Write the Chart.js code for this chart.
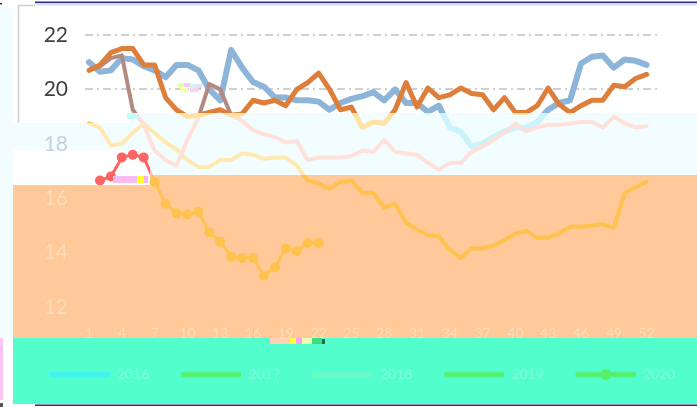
<!DOCTYPE html>
<html>
<head>
<meta charset="utf-8">
<script src="https://cdn.jsdelivr.net/npm/chart.js@4.4.1/dist/chart.umd.min.js"></script>
<style>
html, body { margin: 0; padding: 0; background: #fff; }
</style>
</head>
<body>
<canvas id="chart" width="697" height="407"></canvas>
<script>
// Weekly series, one value per week (52 weeks)
const weekLabels = ['1','2','3','4','5','6','7','8','9','10','11','12','13','14','15','16','17','18','19','20',
  '21','22','23','24','25','26','27','28','29','30','31','32','33','34','35','36','37','38','39','40',
  '41','42','43','44','45','46','47','48','49','50','51','52'];
const shownWeeks = ['1','4','7','10','13','16','19','22','25','28','31','34','37','40','43','46','49','52'];
const seriesNames = ['2016', '2017', '2018', '2019', '2020'];

const series2016 = [21.0, 20.65, 20.7, 21.15, 21.1, 20.85, 20.7, 20.45, 20.9, 20.9, 20.7, 20.0, 19.6, 21.45, 20.8, 20.27,
  20.1, 19.7, 19.7, 19.6, 19.6, 19.55, 19.25, 19.5, 19.65, 19.75, 19.9, 19.6, 20.0, 19.5, 19.5, 19.17, 19.4, 18.6, 18.45,
  17.9, 18.0, 18.25, 18.45, 18.6, 18.6, 18.8, 19.25, 19.5, 19.6, 20.95, 21.2, 21.25, 20.8, 21.1, 21.05, 20.9];
const series2017 = [20.7, 20.9, 21.35, 21.5, 21.5, 20.9, 20.9, 19.7, 19.25, 19.0, 19.05, 19.15, 19.25, 19.05, 19.1, 19.6,
  19.5, 19.6, 19.4, 20.0, 20.25, 20.6, 20.0, 19.25, 19.35, 18.6, 18.8, 18.75, 19.25, 20.25, 19.35, 20.05, 19.7, 19.8, 20.05,
  19.85, 19.8, 19.25, 19.7, 19.15, 19.15, 19.4, 20.05, 19.45, 19.15, 19.4, 19.6, 19.6, 20.15, 20.1, 20.4, 20.55];
const series2018 = [18.75, 18.6, 17.95, 18.0, 18.4, 18.75, 18.4, 18.05, 17.8, 17.4, 17.15, 17.15, 17.4, 17.4, 17.65, 17.6,
  17.45, 17.5, 17.5, 17.2, 16.65, 16.55, 16.35, 16.6, 16.65, 16.2, 16.2, 15.65, 15.8, 15.1, 14.85, 14.65, 14.6, 14.1, 13.8,
  14.15, 14.15, 14.25, 14.45, 14.7, 14.8, 14.55, 14.55, 14.7, 14.95, 14.95, 15.0, 15.05, 14.9, 16.2, 16.4, 16.6];
const series2019 = [20.7, 20.85, 21.15, 21.25, 19.25, 18.7, 17.75, 17.4, 17.2, 18.15, 18.95, 20.2, 20.0, 19.05, 18.85, 18.5,
  18.35, 18.25, 18.05, 18.1, 17.4, 17.5, 17.5, 17.5, 17.55, 17.75, 17.7, 18.15, 17.7, 17.65, 17.6, 17.3, 17.05, 17.3, 17.3,
  17.7, 17.9, 18.15, 18.4, 18.75, 18.45, 18.6, 18.7, 18.7, 18.75, 18.8, 18.8, 18.6, 19.0, 18.75, 18.6, 18.65];
const series2020 = [null, 16.65, 16.8, 17.5, 17.6, 17.5, 16.6, 15.8, 15.45, 15.4, 15.5, 14.75, 14.4, 13.85, 13.8, 13.8,
  13.15, 13.45, 14.15, 14.05, 14.35, 14.35];

// first entry is drawn on top
const lineSeries = [
  { name: seriesNames[4], values: series2020, width: 3, radius: 5,
    colors: { plain: '#ff6464', tint: '#ffc2c2', band: '#ffc24e' }, legendColor: '#55ef68', legendDot: true },
  { name: seriesNames[1], values: series2017, width: 5,
    colors: { plain: '#dd7e3b', tint: '#ffe2a4', band: '#ffc24e' }, legendColor: '#55ef68' },
  { name: seriesNames[3], values: series2019, width: 4,
    colors: { plain: '#b38a7f', tint: '#ffe1da', band: '#ffc24e' }, legendColor: '#55ef68' },
  { name: seriesNames[2], values: series2018, width: 4,
    colors: { plain: '#f7c04a', tint: '#ffe9ae', band: '#ffc24e' }, legendColor: '#6afbc4' },
  { name: seriesNames[0], values: series2016, width: 6,
    colors: { plain: '#8db4d9', tint: '#ccf3fb', band: '#ffc24e' }, legendColor: '#3ff2f6' }
];
const legendOrder = [4, 1, 3, 2, 0];

// glitch regions (canvas pixels)
const tintPoly = [[13,123],[130,123],[130,113],[697,113],[697,175],[150,175],[150,150],[13,150]];
const bandPoly = [[13,185],[150,185],[150,175],[697,175],[697,338],[13,338]];

function tracePoly(ctx, pts) {
    ctx.moveTo(pts[0][0], pts[0][1]);
    pts.slice(1).forEach(p => ctx.lineTo(p[0], p[1]));
    ctx.closePath();
}

// legend geometry
const legendFont = { family: 'Lato', size: 14 };
const legendPad = 10;
const measureCtx = document.createElement('canvas').getContext('2d');
measureCtx.font = '14px Lato';
const legendTextW = measureCtx.measureText(seriesNames[0]).width;
const symbolW = Math.round(114 - legendTextW);
const legendLeft = 100 - symbolW;
const xAxisHeight = 407 - 307 - 15.5 - (14 + legendPad + 10);

function legendSymbol(color, dot) {
    const c = document.createElement('canvas');
    c.width = symbolW;
    c.height = 14;
    const g = c.getContext('2d');
    g.strokeStyle = color;
    g.lineWidth = 5;
    g.lineCap = 'round';
    g.beginPath();
    g.moveTo(symbolW - 58, 7);
    g.lineTo(symbolW - 2, 7);
    g.stroke();
    if (dot) {
        g.fillStyle = color;
        g.beginPath();
        g.arc(symbolW - 30, 7, 5.5, 0, Math.PI * 2);
        g.fill();
    }
    return c;
}

// build datasets: each series drawn three times, clipped to its region
const datasets = [];
const firstIndex = [];
lineSeries.forEach((s, k) => {
    firstIndex[k] = datasets.length;
    ['plain', 'tint', 'band'].forEach(region => {
        datasets.push({
            label: s.name,
            region: region,
            data: s.values.map((v, i) => ({ x: i, y: v })),
            borderColor: s.colors[region],
            backgroundColor: s.colors[region],
            borderWidth: s.width,
            borderJoinStyle: 'round',
            borderCapStyle: 'round',
            pointRadius: s.radius || 0,
            pointBackgroundColor: s.colors[region],
            pointBorderWidth: 0,
            tension: 0,
            spanGaps: false,
            clip: false
        });
    });
});

const backdrop = {
    id: 'backdrop',
    beforeDraw(chart) {
        const ctx = chart.ctx;
        ctx.save();
        ctx.fillStyle = '#ffffff';
        ctx.fillRect(0, 0, 697, 407);
        ctx.fillStyle = '#f2fdff';
        ctx.fillRect(0, 8, 13, 330);
        ctx.beginPath(); tracePoly(ctx, tintPoly); ctx.fill();
        ctx.fillStyle = '#ffc999';
        ctx.beginPath(); tracePoly(ctx, bandPoly); ctx.fill();
        ctx.fillStyle = '#52ffcc';
        ctx.fillRect(13, 338, 684, 66);
        ctx.fillStyle = '#ffc6f5';
        ctx.fillRect(0, 338, 3, 62);
        ctx.fillStyle = '#555';
        ctx.fillRect(0, 403, 3, 4);
        ctx.fillStyle = '#2c2c88';
        ctx.fillRect(0, 3, 2, 1.5);
        ctx.fillRect(35, 1.5, 662, 1.5);
        ctx.fillRect(35, 404.5, 662, 1.5);
        ctx.fillStyle = '#dcdcf0';
        ctx.fillRect(35, 3, 662, 2.5);
        ctx.strokeStyle = '#cfcfd4';
        ctx.lineWidth = 1.5;
        ctx.beginPath();
        ctx.moveTo(18.5, 123);
        ctx.lineTo(18.5, 5.5);
        ctx.lineTo(35, 5.5);
        ctx.stroke();
        ctx.restore();
    },
    beforeDatasetDraw(chart, args) {
        const region = chart.data.datasets[args.index].region;
        const ctx = chart.ctx;
        ctx.save();
        ctx.beginPath();
        if (region === 'plain') {
            ctx.rect(0, 0, chart.width, chart.height);
            tracePoly(ctx, tintPoly);
            tracePoly(ctx, bandPoly);
            ctx.clip('evenodd');
        } else {
            tracePoly(ctx, region === 'tint' ? tintPoly : bandPoly);
            ctx.clip();
        }
    },
    afterDatasetDraw(chart) {
        chart.ctx.restore();
    },
    afterDraw(chart) {
        // small noise blocks
        const ctx = chart.ctx;
        const blocks = [
            [178, 83, 6, 4, '#e8ffa0'], [184, 83, 6, 4, '#f8c8f8'], [190, 84, 6, 4, '#c8f8f0'],
            [196, 84, 6, 4, '#e0e0ff'], [180, 88, 8, 4, '#f0ffb0'], [190, 88, 8, 4, '#ffd0f0'],
            [127, 113, 10, 6, '#c4fbff'],
            [113, 176, 24, 7, '#f7bdf3'], [137, 176, 7, 7, '#ffff2a'], [144, 176, 4, 7, '#f5b0ee'],
            [270, 338, 20, 6, '#ffd2b8'], [290, 338, 6, 6, '#ffff40'], [296, 338, 6, 6, '#ff9ef2'],
            [302, 338, 10, 6, '#e8ffb0'], [312, 338, 10, 6, '#40dd80'], [322, 339, 3, 5, '#2a6a4a']
        ];
        ctx.save();
        blocks.forEach(b => { ctx.fillStyle = b[4]; ctx.fillRect(b[0], b[1], b[2], b[3]); });
        ctx.restore();
    }
};

function yTickColor(v) {
    if (v >= 20) return '#3f3f3f';
    if (v >= 18) return '#c3d3db';
    return '#ffdcb9';
}

new Chart(document.getElementById('chart'), {
    type: 'line',
    data: { datasets: datasets },
    plugins: [backdrop],
    options: {
        responsive: false,
        animation: false,
        events: [],
        layout: { padding: { left: legendLeft, right: 0, top: 35, bottom: 15.5 } },
        plugins: {
            tooltip: { enabled: false },
            legend: {
                position: 'bottom',
                align: 'start',
                labels: {
                    usePointStyle: true,
                    pointStyleWidth: symbolW,
                    padding: legendPad,
                    font: legendFont,
                    color: '#80ffd8',
                    generateLabels: () => legendOrder.map(k => ({
                        text: lineSeries[k].name,
                        datasetIndex: firstIndex[k],
                        pointStyle: legendSymbol(lineSeries[k].legendColor, lineSeries[k].legendDot),
                        fillStyle: 'transparent',
                        strokeStyle: 'transparent',
                        lineWidth: 0,
                        fontColor: '#80ffd8',
                        hidden: false
                    }))
                }
            }
        },
        scales: {
            x: {
                type: 'linear',
                min: -0.37,
                max: 52.23,
                grid: { display: false, drawTicks: false },
                border: { display: false },
                afterBuildTicks: s => { s.ticks = shownWeeks.map(w => ({ value: weekLabels.indexOf(w) })); },
                afterFit: s => { s.height = xAxisHeight; },
                ticks: {
                    autoSkip: false,
                    maxRotation: 0,
                    padding: 18,
                    color: '#ffdcb9',
                    font: { family: 'Lato', size: 14 },
                    callback: v => weekLabels[v]
                }
            },
            y: {
                min: 12,
                max: 22,
                afterFit: s => { s.width = 85 - legendLeft; },
                grid: {
                    drawTicks: false,
                    lineWidth: 2,
                    color: c => (c.tick && c.tick.value >= 20) ? '#d0d0d0' : 'rgba(0,0,0,0)'
                },
                border: { display: false, dash: [8, 4, 2, 4] },
                ticks: {
                    stepSize: 2,
                    padding: 17,
                    font: { family: 'Lato', size: 21 },
                    color: c => yTickColor(c.tick.value)
                }
            },
            yPad: {
                type: 'linear',
                position: 'right',
                afterFit: s => { s.width = 37; },
                grid: { display: false, drawTicks: false },
                border: { display: false },
                ticks: { display: false }
            }
        }
    }
});
</script>
</body>
</html>
